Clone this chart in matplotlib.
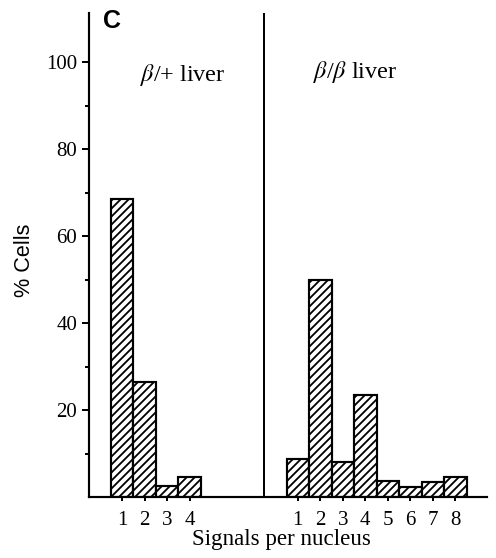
"""Signals per nucleus histogram, beta/+ vs beta/beta liver (panel C)."""
import numpy as np
import matplotlib; matplotlib.use("Agg")
import matplotlib.pyplot as plt

plt.rcParams['font.family'] = ['Liberation Serif', 'DejaVu Serif']
plt.rcParams['mathtext.fontset'] = 'stix'
plt.rcParams['hatch.linewidth'] = 1.1

# data
het_signals = [1, 2, 3, 4]
het_pct = [68.5, 26.5, 2.5, 4.5]
hom_signals = [1, 2, 3, 4, 5, 6, 7, 8]
hom_pct = [8.7, 50.0, 8.0, 23.4, 3.7, 2.3, 3.4, 4.6]
panel_titles = [r'$\beta$/+ liver', r'$\beta$/$\beta$ liver']

SHIFT = 7.8      # x offset of the second panel
DIVIDER = 7.31

dpi = 120
fig = plt.figure(figsize=(496 / dpi, 558 / dpi), dpi=dpi)
ax = fig.add_axes([89 / 496, 1 - 497 / 558, (487 - 89) / 496, (497 - 13) / 558])

het_x = np.array(het_signals, dtype=float)
hom_x = np.array(hom_signals, dtype=float) + SHIFT
for xs, ys in [(het_x, het_pct), (hom_x, hom_pct)]:
    ax.bar(xs, ys, width=1.0, color='white', edgecolor='black', linewidth=1.3,
           hatch='/////')

ax.axvline(DIVIDER, color='black', linewidth=1.2)

ax.set_xlim(-0.47, 17.2)
ax.set_ylim(0, 111.3)
ax.set_xticks(list(het_x) + list(hom_x))
ax.set_xticklabels([str(s) for s in het_signals] + [str(s) for s in hom_signals])
ax.set_yticks([20, 40, 60, 80, 100])
ax.set_yticks([10, 30, 50, 70, 90], minor=True)
ax.tick_params(axis='y', which='major', length=4, width=1.2, labelsize=12.5, pad=3)
ax.tick_params(axis='y', which='minor', length=2.5, width=1.2)
ax.tick_params(axis='x', length=2.5, width=1.2, labelsize=12.5, pad=6)
for s in ['top', 'right']:
    ax.spines[s].set_visible(False)
for s in ['left', 'bottom']:
    ax.spines[s].set_linewidth(1.3)

ax.text(3.7, 97, panel_titles[0], ha='center', va='center', fontsize=14.5)
ax.text(11.36, 97.7, panel_titles[1], ha='center', va='center', fontsize=14.5)

fig.text(112 / 496, 1 - 21 / 558, 'C', ha='center', va='center', fontsize=15,
         fontweight='bold', family='Liberation Sans')
fig.text(25 / 496, 1 - 260 / 558, '% Cells', ha='center', va='center',
         rotation=90, fontsize=13, family='Liberation Sans')
fig.text(281 / 496, 1 - 540 / 558, 'Signals per nucleus', ha='center',
         va='center', fontsize=13.8)

fig.savefig('out.png', dpi=dpi)
print('saved out.png')
